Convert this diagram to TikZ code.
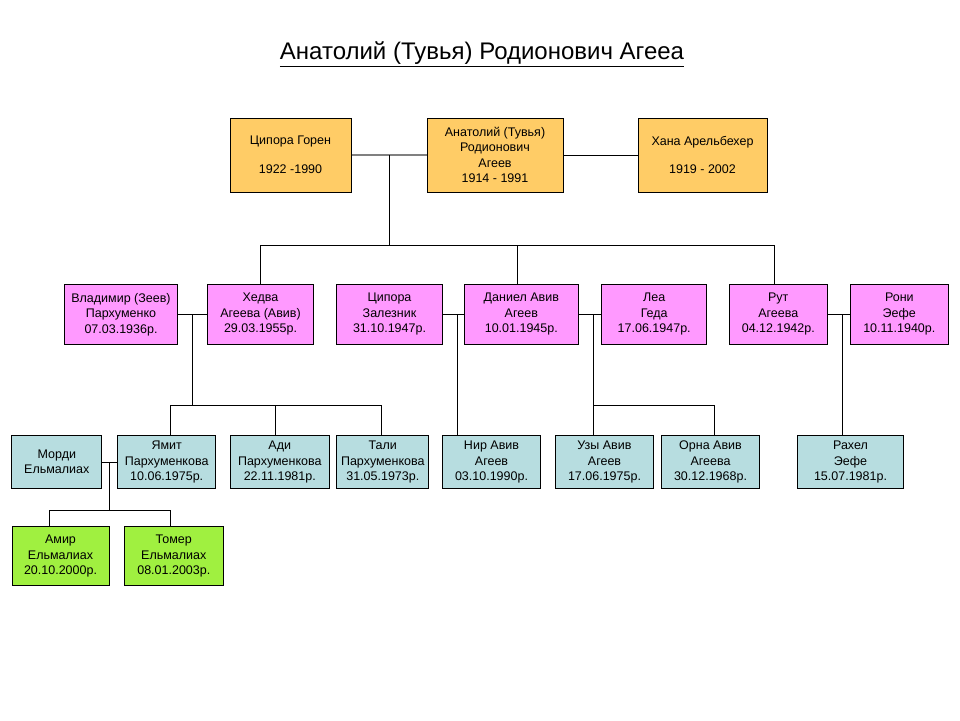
\documentclass[tikz,border=0pt]{standalone}
\usepackage{fontspec}
\setmainfont{Liberation Sans}
\begin{document}
\begin{tikzpicture}[x=1pt,y=-1pt,
  box/.style={draw=black, line width=1pt, inner sep=0pt, align=center, text=black,
    font=\fontsize{12.5}{15.5}\selectfont},
  orangebox/.style={box, fill=boxorange},
  pinkbox/.style={box, fill=boxpink},
  bluebox/.style={box, fill=boxblue},
  greenbox/.style={box, fill=boxgreen},
  link/.style={draw=black, line width=0.9pt},
  graylink/.style={draw=linegray, line width=2pt}]
\definecolor{boxorange}{HTML}{FFCC66}
\definecolor{boxpink}{HTML}{FF99FF}
\definecolor{boxblue}{HTML}{B7DDE0}
\definecolor{boxgreen}{HTML}{A0F040}
\definecolor{linegray}{HTML}{808080}
\useasboundingbox[fill=white] (0,0) rectangle (960,720);

\node[font=\fontsize{24}{28}\selectfont] (title) at (482,54) {\underline{Анатолий (Тувья) Родионович Агеea}};

% row 1
\node[orangebox, minimum width=121pt, minimum height=74pt] (tsg) at (290.5,155) {Ципора Горен\\[13pt]1922 -1990};
\node[orangebox, minimum width=136pt, minimum height=74pt] (anat) at (495,155) {Анатолий (Тувья)\\Родионович\\Агеев\\1914 - 1991};
\node[orangebox, minimum width=129pt, minimum height=74pt] (hana) at (702.5,155) {Хана Арельбехер\\[13pt]1919 - 2002};

% row 2
\node[pinkbox, minimum width=113.4pt, minimum height=59.3pt] (vlad) at (121,314.4) {Владимир (Зеев)\\Пархуменко\\07.03.1936р.};
\node[pinkbox, minimum width=105.6pt, minimum height=59.3pt] (hedva) at (260.5,314.4) {Хедва\\Агеева (Авив)\\29.03.1955р.};
\node[pinkbox, minimum width=105.6pt, minimum height=59.3pt] (tsz) at (389.5,314.4) {Ципора\\Залезник\\31.10.1947р.};
\node[pinkbox, minimum width=114pt, minimum height=59.3pt] (daniel) at (521.3,314.4) {Даниел Авив\\Агеев\\10.01.1945р.};
\node[pinkbox, minimum width=105pt, minimum height=59.3pt] (lea) at (654.2,314.4) {Леа\\Геда\\17.06.1947р.};
\node[pinkbox, minimum width=98pt, minimum height=59.3pt] (ruth) at (778.3,314.4) {Рут\\Агеева\\04.12.1942р.};
\node[pinkbox, minimum width=98pt, minimum height=59.3pt] (roni) at (899.3,314.4) {Рони\\Эефе\\10.11.1940р.};

% row 3
\node[bluebox, minimum width=90.3pt, minimum height=52.6pt] (mordi) at (56.8,462) {Морди\\Ельмалиах};
\node[bluebox, minimum width=98pt, minimum height=52.6pt] (yamit) at (166.7,462) {Ямит\\Пархуменкова\\10.06.1975р.};
\node[bluebox, minimum width=99pt, minimum height=52.6pt] (adi) at (279.8,462) {Ади\\Пархуменкова\\22.11.1981р.};
\node[bluebox, minimum width=92.3pt, minimum height=52.6pt] (tali) at (382.8,462) {Тали\\Пархуменкова\\31.05.1973р.};
\node[bluebox, minimum width=97.6pt, minimum height=52.6pt] (nir) at (491.5,462) {Нир Авив\\Агеев\\03.10.1990р.};
\node[bluebox, minimum width=97.6pt, minimum height=52.6pt] (uzy) at (604.5,462) {Узы Авив\\Агеев\\17.06.1975р.};
\node[bluebox, minimum width=97.6pt, minimum height=52.6pt] (orna) at (710.5,462) {Орна Авив\\Агеева\\30.12.1968р.};
\node[bluebox, minimum width=105.6pt, minimum height=52.6pt] (rachel) at (850.5,462) {Рахел\\Эефе\\15.07.1981р.};

% row 4
\node[greenbox, minimum width=97pt, minimum height=59pt] (amir) at (60.5,556.2) {Амир\\Ельмалиах\\20.10.2000р.};
\node[greenbox, minimum width=99pt, minimum height=59pt] (tomer) at (173.8,556.2) {Томер\\Ельмалиах\\08.01.2003р.};

% junction coordinates
\coordinate (j1) at (389,155);
\coordinate (j1b) at (389,245);
\coordinate (dd) at (517,245);
\coordinate (rd) at (774,245);
\coordinate (j2) at (192.7,314.4);
\coordinate (j2b) at (192.7,405.3);
\coordinate (yd) at (170.3,405.3);
\coordinate (ad) at (275.7,405.3);
\coordinate (td) at (381.7,405.3);
\coordinate (j3) at (457.3,314.4);
\coordinate (j4) at (593.7,314.4);
\coordinate (j4b) at (593.7,405.7);
\coordinate (od) at (714.3,405.7);
\coordinate (j5) at (842.7,314.4);
\coordinate (j6) at (109.3,462);
\coordinate (j6b) at (109.3,510.7);
\coordinate (amd) at (49.3,510.7);
\coordinate (tmd) at (170.3,510.7);

% connectors
\draw[graylink] (tsg.east) -- (anat.west);
\draw[link] (anat.east) -- (hana.west);
\draw[link] (j1) -- (j1b);
\draw[link] (hedva.north) -- (hedva.north |- j1b) -- (rd) -- (rd |- ruth.north);
\draw[link] (dd) -- (dd |- daniel.north);

\draw[link] (vlad.east) -- (hedva.west);
\draw[link] (j2) -- (j2b);
\draw[link] (yd |- yamit.north) -- (yd) -- (td) -- (td |- tali.north);
\draw[link] (ad) -- (ad |- adi.north);

\draw[link] (tsz.east) -- (daniel.west);
\draw[link] (j3) -- (j3 |- nir.north);

\draw[link] (daniel.east) -- (lea.west);
\draw[link] (j4) -- (j4 |- uzy.north);
\draw[link] (j4b) -- (od) -- (od |- orna.north);

\draw[link] (ruth.east) -- (roni.west);
\draw[link] (j5) -- (j5 |- rachel.north);

\draw[link] (mordi.east) -- (yamit.west);
\draw[link] (j6) -- (j6b);
\draw[link] (amd |- amir.north) -- (amd) -- (tmd) -- (tmd |- tomer.north);
\end{tikzpicture}
\end{document}
